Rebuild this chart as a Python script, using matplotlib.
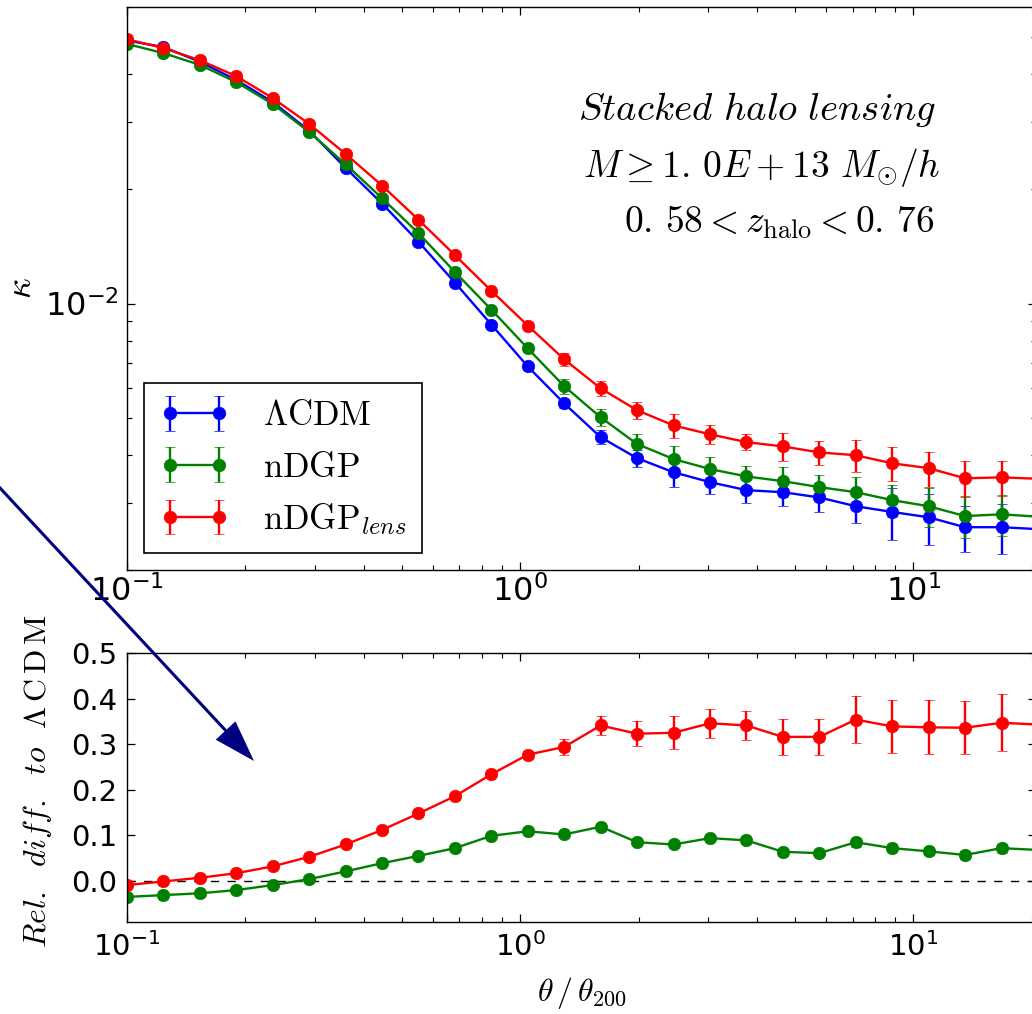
import matplotlib
matplotlib.use("Agg")
import matplotlib.pyplot as plt
from matplotlib.patches import FancyArrowPatch, ArrowStyle
from matplotlib.transforms import IdentityTransform
from matplotlib.ticker import NullFormatter, FixedLocator

# Angular bins in units of theta_200
theta = [0.100, 0.1238, 0.1532, 0.1897, 0.2348, 0.2906, 0.3597, 0.4453, 0.5512,
         0.6823, 0.8446, 1.045, 1.294, 1.602, 1.983, 2.455, 3.039, 3.762, 4.656,
         5.764, 7.135, 8.832, 10.93, 13.53, 16.75, 20.74]

# Stacked convergence profiles
kappa_lcdm = [0.0490, 0.0471, 0.0431, 0.0386, 0.0338, 0.0284, 0.0227, 0.0183, 0.01453,
              0.01135, 0.00881, 0.00684, 0.00547, 0.00446, 0.00393, 0.00361, 0.00340,
              0.00324, 0.00320, 0.00310, 0.00294, 0.00284, 0.00275, 0.00259, 0.00259, 0.00256]
kappa_lcdm_err = [0.0004, 0.0003, 0.0003, 0.0002, 0.0002, 0.00015, 0.00012, 0.0001, 0.0001,
                  0.0001, 0.0001, 0.00012, 0.00016, 0.00019, 0.00021, 0.00030, 0.00023,
                  0.00024, 0.00025, 0.00026, 0.00028, 0.00044, 0.00042, 0.00036, 0.00039, 0.00039]

kappa_ndgp = [0.0480, 0.0454, 0.0423, 0.0381, 0.0334, 0.0282, 0.0232, 0.0189, 0.0153,
              0.0121, 0.00964, 0.00763, 0.00607, 0.00503, 0.00428, 0.00391, 0.00368,
              0.00352, 0.00342, 0.00330, 0.00320, 0.00305, 0.00294, 0.00277, 0.00280, 0.00276]
kappa_ndgp_err = [0.0004, 0.0003, 0.0003, 0.0002, 0.0002, 0.00015, 0.00012, 0.0001, 0.0001,
                  0.0001, 0.00012, 0.00015, 0.00027, 0.00027, 0.00026, 0.00031, 0.00028,
                  0.00023, 0.00031, 0.00024, 0.00031, 0.00029, 0.00035, 0.00035, 0.00035, 0.00035]

kappa_lens = [0.0494, 0.0468, 0.0435, 0.0395, 0.0346, 0.0296, 0.0247, 0.0204, 0.0166,
              0.0134, 0.0108, 0.00876, 0.00714, 0.00599, 0.00525, 0.00479, 0.00454,
              0.00433, 0.00422, 0.00407, 0.00400, 0.00381, 0.00370, 0.00348, 0.00350, 0.00347]
kappa_lens_err = [0.0004, 0.0003, 0.0003, 0.0002, 0.0002, 0.00015, 0.00012, 0.0001, 0.0001,
                  0.0001, 0.00012, 0.00021, 0.00029, 0.00028, 0.00028, 0.00034, 0.00025,
                  0.00021, 0.00035, 0.00029, 0.00039, 0.00039, 0.00039, 0.00038, 0.00037, 0.00037]

# Relative difference with respect to LCDM
rel_ndgp = [-0.035, -0.031, -0.027, -0.020, -0.009, 0.004, 0.021, 0.039, 0.055, 0.072,
            0.099, 0.109, 0.102, 0.119, 0.085, 0.080, 0.094, 0.089, 0.064, 0.061,
            0.085, 0.072, 0.065, 0.057, 0.072, 0.068]
rel_ndgp_err = [0.002, 0.002, 0.002, 0.002, 0.002, 0.002, 0.002, 0.002, 0.002, 0.003,
                0.003, 0.003, 0.004, 0.005, 0.004, 0.005, 0.005, 0.005, 0.006, 0.006,
                0.010, 0.008, 0.008, 0.008, 0.010, 0.010]
rel_lens = [-0.009, -0.001, 0.007, 0.017, 0.032, 0.053, 0.080, 0.112, 0.148, 0.186,
            0.234, 0.277, 0.294, 0.341, 0.323, 0.325, 0.346, 0.341, 0.316, 0.316,
            0.354, 0.339, 0.337, 0.336, 0.347, 0.343]
rel_lens_err = [0.003, 0.003, 0.003, 0.003, 0.003, 0.003, 0.004, 0.004, 0.005, 0.005,
                0.006, 0.008, 0.017, 0.021, 0.028, 0.036, 0.032, 0.031, 0.039, 0.039,
                0.051, 0.059, 0.059, 0.058, 0.063, 0.060]

labels = [r'$\Lambda\mathrm{CDM}$', r'$\mathrm{nDGP}$', r'$\mathrm{nDGP}_{lens}$']
colors = ['#0000ff', '#008000', '#ff0000']

plt.rcParams.update({
    'mathtext.fontset': 'cm',
    'font.family': 'DejaVu Sans',
    'axes.unicode_minus': False,
    'xtick.direction': 'in',
    'ytick.direction': 'in',
    'xtick.top': True,
    'ytick.right': True,
    'axes.linewidth': 1.0,
    'xtick.major.size': 5.8,
    'ytick.major.size': 5.8,
    'xtick.minor.size': 3.4,
    'ytick.minor.size': 3.4,
    'xtick.major.width': 0.9,
    'ytick.major.width': 0.9,
    'xtick.minor.width': 0.8,
    'ytick.minor.width': 0.8,
})

W, H = 1032, 1014
fig = plt.figure(figsize=(W / 100, H / 100), dpi=100)
fig.patch.set_facecolor('white')
ax1 = fig.add_axes([127 / W, (H - 570) / H, (1036 - 127) / W, 563 / H])
ax2 = fig.add_axes([127 / W, (H - 922) / H, (1036 - 127) / W, 269 / H])

XMAX = 20.5
style = dict(marker='o', ms=9, mew=0.5, lw=1.7, elinewidth=1.7, capsize=3.5, capthick=1.5)

for y, e, c, lab in zip([kappa_lcdm, kappa_ndgp, kappa_lens],
                        [kappa_lcdm_err, kappa_ndgp_err, kappa_lens_err],
                        colors, labels):
    ax1.errorbar(theta, y, yerr=e, color=c, mec=c, label=lab, **style)

ax1.set_xscale('log')
ax1.set_yscale('log')
ax1.set_xlim(0.1, XMAX)
ax1.set_ylim(0.002, 0.06)
ax1.yaxis.set_minor_formatter(NullFormatter())
ax1.xaxis.set_minor_formatter(NullFormatter())
ax1.tick_params(axis='both', which='major', labelsize=23)
ax1.tick_params(axis='x', which='major', pad=4)
ax1.tick_params(axis='y', which='major', pad=6)
ax1.set_ylabel(r'$\kappa$', fontsize=26)
ax1.yaxis.set_label_coords(-0.098, 0.5)

leg = ax1.legend(loc='lower left', numpoints=2, fontsize=25, fancybox=False,
                 framealpha=1, edgecolor='black', borderaxespad=0.5,
                 handlelength=2.0, handletextpad=0.97, labelspacing=0.5, borderpad=0.45)
leg.get_frame().set_linewidth(1.2)

ax1.text(0.890, 0.799, r'$Stacked\ halo\ lensing$', transform=ax1.transAxes,
         ha='right', va='baseline', fontsize=28)
ax1.text(0.895, 0.698, r'$M \geq 1.\,0E+13\ M_{\odot}/h$', transform=ax1.transAxes,
         ha='right', va='baseline', fontsize=27)
ax1.text(0.888, 0.600, r'$0.\,58 < z_{\rm halo} < 0.\,76$', transform=ax1.transAxes,
         ha='right', va='baseline', fontsize=27)

# Lower panel: relative difference
ax2.axhline(0.0, color='black', ls='--', lw=1.0, dashes=(6, 6))
for y, e, c in zip([rel_ndgp, rel_lens], [rel_ndgp_err, rel_lens_err], colors[1:]):
    ax2.errorbar(theta, y, yerr=e, color=c, mec=c, **style)

ax2.set_xscale('log')
ax2.set_xlim(0.1, XMAX)
ax2.set_ylim(-0.09, 0.5)
ax2.yaxis.set_major_locator(FixedLocator([0.0, 0.1, 0.2, 0.3, 0.4, 0.5]))
ax2.xaxis.set_minor_formatter(NullFormatter())
ax2.tick_params(axis='both', which='major', labelsize=21)
ax2.tick_params(axis='x', which='major', pad=7)
ax2.tick_params(axis='y', which='major', pad=7)
ax2.set_ylabel(r'$Rel.\ \ diff.\ \ to\ \ \Lambda\,\mathrm{C}\,\mathrm{D}\,\mathrm{M}$',
               fontsize=23)
ax2.yaxis.set_label_coords(-0.080, 0.522)
ax2.set_xlabel(r'$\theta\,/\,\theta_{200}$', fontsize=23)
ax2.xaxis.set_label_coords(0.5, -0.197)

# Pointer arrow from the upper panel into the lower one
arrow = FancyArrowPatch((-20, H - 466.5), (254, H - 761),
                        transform=IdentityTransform(),
                        arrowstyle=ArrowStyle.Simple(head_length=30, head_width=19.4,
                                                     tail_width=2.2),
                        mutation_scale=1, shrinkA=0, shrinkB=0,
                        color='#000080', lw=0)
fig.add_artist(arrow)

fig.savefig('out.png', dpi=100, facecolor='white')
